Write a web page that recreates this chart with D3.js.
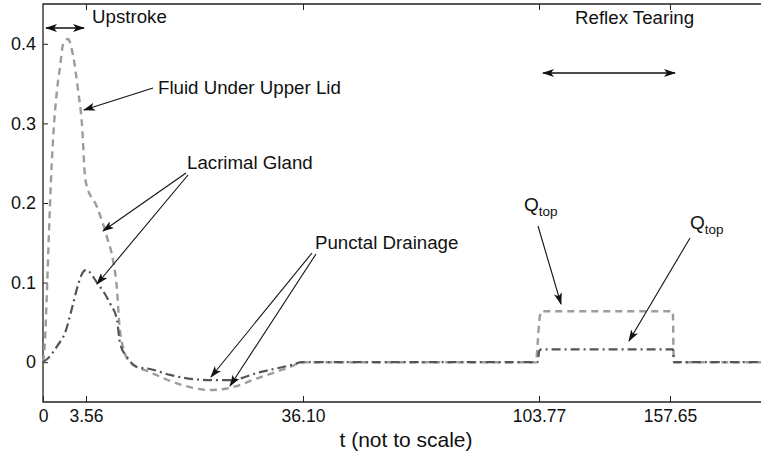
<!DOCTYPE html>
<html>
<head>
<meta charset="utf-8">
<script src="https://cdn.jsdelivr.net/npm/d3@7/dist/d3.min.js"></script>
<style>
  body { margin: 0; background: #fff; }
  text { font-family: "Liberation Sans", Arial, Helvetica, sans-serif; fill: #111; }
  .axis path { display: none; }
  .axis line { stroke: #222; stroke-width: 1; }
</style>
</head>
<body>
<script>
// time axis breakpoints (not to scale)
var tickTimes = [0, 3.56, 36.10, 103.77, 157.65];
var tickLabels = ["0", "3.56", "36.10", "103.77", "157.65"];
var tEnd = 195;
var yTicks = [0, 0.1, 0.2, 0.3, 0.4];

// fluid under upper lid (light dashed)
var fluidT = [0, 0.17, 0.33, 0.50, 0.66, 0.91, 1.16, 1.41, 1.66, 2.07, 2.48, 2.90, 3.23, 3.48, 3.56, 5.21, 6.71, 7.61, 8.21, 8.51, 9.11, 10.16, 13.16, 18.1, 22.15, 24.7, 29.65, 34.15, 36.1, 102.9, 103.4, 104.0, 104.8, 158.8, 159.2, 195];
var fluidV = [0, 0.028, 0.091, 0.166, 0.229, 0.298, 0.342, 0.371, 0.399, 0.406, 0.386, 0.342, 0.298, 0.233, 0.225, 0.195, 0.157, 0.128, 0.091, 0.053, 0.019, 0.0, -0.0125, -0.029, -0.035, -0.033, -0.019, -0.006, 0, 0, 0.025, 0.055, 0.064, 0.064, 0, 0];

// lacrimal gland / punctal drainage (dash-dot)
var glandT = [0, 0.41, 1.24, 1.82, 2.40, 2.90, 3.23, 3.56, 5.21, 7.16, 8.21, 8.66, 9.71, 11.2, 13.16, 16.16, 22.15, 25.15, 29.65, 34.15, 36.1, 103.3, 103.9, 104.6, 158.9, 159.3, 195];
var glandV = [0, 0.005, 0.0217, 0.0367, 0.068, 0.097, 0.111, 0.116, 0.10, 0.074, 0.053, 0.024, 0.0065, -0.006, -0.0085, -0.016, -0.0225, -0.0225, -0.0125, -0.004, 0, 0, 0.014, 0.016, 0.016, 0, 0];

var W = 761, H = 457;
var mLeft = 43, mTop = 4, mBottom = 402, mRight = 790;

var svg = d3.select("body").append("svg")
  .attr("width", W).attr("height", H);

var defs = svg.append("defs");
defs.append("marker")
  .attr("id", "ah")
  .attr("viewBox", "0 0 12 8")
  .attr("refX", 11).attr("refY", 4)
  .attr("markerWidth", 12).attr("markerHeight", 8)
  .attr("markerUnits", "userSpaceOnUse")
  .attr("orient", "auto-start-reverse")
  .append("path")
  .attr("d", "M0,0 L12,4 L0,8 L3,4 Z")
  .attr("fill", "#111");

var x = d3.scaleLinear()
  .domain(tickTimes.concat([tEnd]))
  .range([mLeft, 86, 303, 539, 670, 761]);

var y = d3.scaleLinear()
  .domain([-0.05, 0.45])
  .range([mBottom, mTop]);

// frame
svg.append("path")
  .attr("d", "M" + mRight + "," + mTop + "H" + mLeft + "V" + mBottom + "H" + mRight)
  .attr("fill", "none").attr("stroke", "#222").attr("stroke-width", 1.3);

var xAxis = d3.axisBottom(x)
  .tickValues(tickTimes)
  .tickFormat(function (d, i) { return tickLabels[i]; })
  .tickSize(-6).tickPadding(8);

svg.append("g").attr("class", "axis")
  .attr("transform", "translate(0," + mBottom + ")")
  .call(xAxis)
  .selectAll("text").style("font-size", "17.5px").attr("fill", "#111");

// top mirror ticks
svg.append("g").attr("class", "axis")
  .attr("transform", "translate(0," + mTop + ")")
  .call(d3.axisTop(x).tickValues(tickTimes.slice(1)).tickSize(-6).tickFormat(""));

var yAxis = d3.axisLeft(y)
  .tickValues(yTicks)
  .tickFormat(function (d) { return d === 0 ? "0" : d.toFixed(1); })
  .tickSize(-5).tickPadding(7);

svg.append("g").attr("class", "axis")
  .attr("transform", "translate(" + mLeft + ",0)")
  .call(yAxis)
  .selectAll("text").style("font-size", "18px").attr("fill", "#111");

svg.append("text")
  .attr("x", 406).attr("y", 447)
  .attr("text-anchor", "middle")
  .style("font-size", "21px")
  .text("t (not to scale)");

var line = d3.line()
  .x(function (d) { return x(d[0]); })
  .y(function (d) { return y(d[1]); })
  .curve(d3.curveMonotoneX);

svg.append("path")
  .datum(d3.zip(fluidT, fluidV))
  .attr("d", line)
  .attr("fill", "none")
  .attr("stroke", "#9c9c9c")
  .attr("stroke-width", 2.4)
  .attr("stroke-dasharray", "7,5");

svg.append("path")
  .datum(d3.zip(glandT, glandV))
  .attr("d", line)
  .attr("fill", "none")
  .attr("stroke", "#555")
  .attr("stroke-width", 2.2)
  .attr("stroke-dasharray", "9,4,2,4");

// annotations
function arrow(x1, y1, x2, y2, both) {
  var l = svg.append("line")
    .attr("x1", x1).attr("y1", y1).attr("x2", x2).attr("y2", y2)
    .attr("stroke", "#111").attr("stroke-width", 1.1)
    .attr("marker-end", "url(#ah)");
  if (both) l.attr("marker-start", "url(#ah)").attr("stroke-width", 1.6);
}
function label(tx, ty, s) {
  svg.append("text").attr("x", tx).attr("y", ty)
    .style("font-size", "18.7px").text(s);
}
function qtop(tx, ty) {
  var t = svg.append("text").attr("x", tx).attr("y", ty).style("font-size", "19px");
  t.append("tspan").text("Q");
  t.append("tspan").attr("dy", 5).style("font-size", "13.5px").text("top");
}

label(92, 23, "Upstroke");
arrow(46, 28, 84, 28, true);

label(158, 94, "Fluid Under Upper Lid");
arrow(153, 88, 84, 110);

label(187, 169, "Lacrimal Gland");
arrow(186, 173, 103, 231);
arrow(188, 175, 97, 284);

label(315, 249, "Punctal Drainage");
arrow(312, 253, 211, 377);
arrow(316, 254, 230, 386);

label(575, 24, "Reflex Tearing");
arrow(543, 73, 675, 73, true);

qtop(524, 211);
arrow(538, 226, 561, 304);

qtop(690, 229);
arrow(690, 238, 629, 341);
</script>
</body>
</html>
